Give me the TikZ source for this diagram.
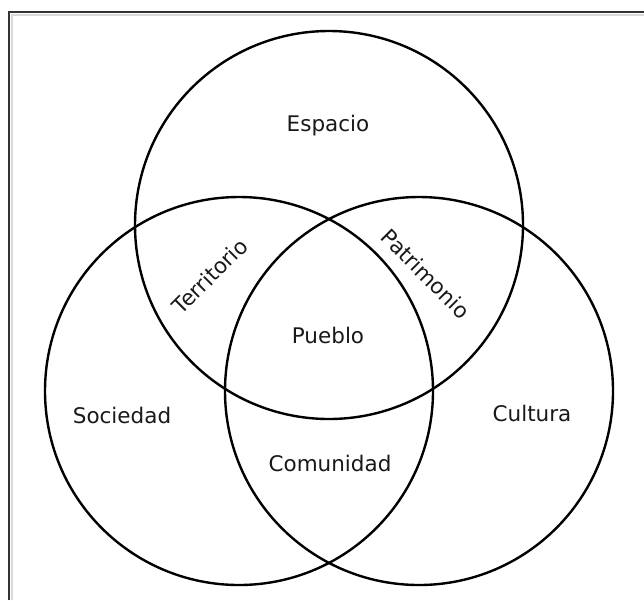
\documentclass[tikz,border=0pt]{standalone}
\usepackage{fontspec}
\setmainfont{DejaVu Sans}
\begin{document}
\begin{tikzpicture}[x=1pt,y=-1pt,
  ring/.style={draw=black,line width=2.4pt},
  lbl/.style={font=\fontsize{21.5}{24}\selectfont,text=black!90,inner sep=0pt},
  frame/.style={draw=black!80,line width=2pt}]
\useasboundingbox (0,0) rectangle (644,600);
\fill[white] (0,0) rectangle (644,600);
% frame (only left and top edges visible)
\draw[black!15,line width=2pt] (11.5,600) -- (11.5,14.5) -- (644,14.5);
\draw[frame] (9,600) -- (9,12) -- (644,12);
% circles
\node[ring,circle,minimum size=388pt,inner sep=0pt] (esp) at (329,225) {};
\node[ring,circle,minimum size=388pt,inner sep=0pt] (soc) at (239,391) {};
\node[ring,circle,minimum size=388pt,inner sep=0pt] (cul) at (419,391) {};
% labels
\node[lbl] (tEsp) at (328,126) {Espacio};
\node[lbl,rotate=45] (tTer) at (210,276) {Territorio};
\node[lbl,rotate=-45] (tPat) at (426,274) {Patrimonio};
\node[lbl] (tPue) at (328,335) {Pueblo};
\node[lbl] (tSoc) at (122,415) {Sociedad};
\node[lbl] (tCul) at (532,413) {Cultura};
\node[lbl] (tCom) at (330,463) {Comunidad};
\end{tikzpicture}
\end{document}
